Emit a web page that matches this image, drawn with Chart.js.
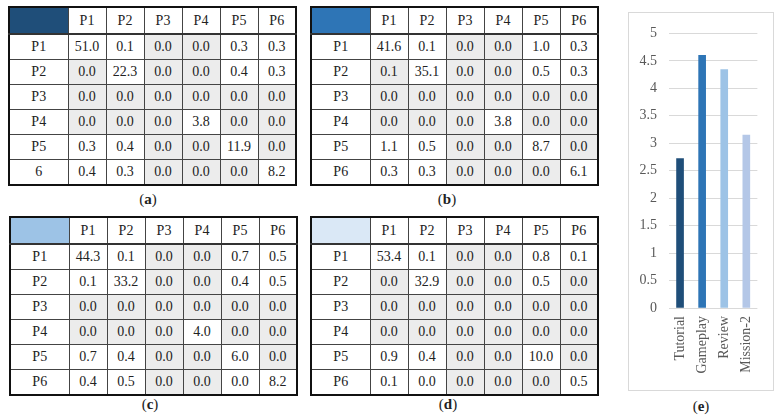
<!DOCTYPE html>
<html>
<head>
<meta charset="utf-8">
<script src="https://cdn.jsdelivr.net/npm/chart.js@4.4.1/dist/chart.umd.min.js"></script>
<style>
  body { margin: 0; background: #fff; font-family: 'Liberation Serif', serif; color: #222; }
  .wrap { position: relative; width: 781px; height: 420px; overflow: hidden; }
  table.cm {
    position: absolute; border-collapse: collapse; table-layout: fixed;
    width: 287px; border: 2px solid #111; font-size: 14px;
  }
  table.cm td { border: 1px solid #444; text-align: center; padding: 0; height: 24px; }
  table.cm tr:first-child td { height: 25px; border-bottom: 2px solid #333; }
  table.cm td.z { background: #ececec; }
  .cap { position: absolute; font-size: 15px; transform: translateX(-50%); }
  .cap b { font-weight: bold; }
  #panelE { position: absolute; left: 628px; top: 12px; width: 144px; height: 377px; border: 1px solid #d9d9d9; }
</style>
</head>
<body>
<div class="wrap" id="wrap">
  <div id="panelE"><canvas id="barChart"></canvas></div>
</div>
<script>
// confusion tables (rows = actual, cols = predicted)
const colLabels = ['P1', 'P2', 'P3', 'P4', 'P5', 'P6'];
const rowLabelsA = ['P1', 'P2', 'P3', 'P4', 'P5', '6'];
const rowLabels = ['P1', 'P2', 'P3', 'P4', 'P5', 'P6'];

const tableA = [
  [51.0, 0.1, 0.0, 0.0, 0.3, 0.3],
  [0.0, 22.3, 0.0, 0.0, 0.4, 0.3],
  [0.0, 0.0, 0.0, 0.0, 0.0, 0.0],
  [0.0, 0.0, 0.0, 3.8, 0.0, 0.0],
  [0.3, 0.4, 0.0, 0.0, 11.9, 0.0],
  [0.4, 0.3, 0.0, 0.0, 0.0, 8.2]
];
const tableB = [
  [41.6, 0.1, 0.0, 0.0, 1.0, 0.3],
  [0.1, 35.1, 0.0, 0.0, 0.5, 0.3],
  [0.0, 0.0, 0.0, 0.0, 0.0, 0.0],
  [0.0, 0.0, 0.0, 3.8, 0.0, 0.0],
  [1.1, 0.5, 0.0, 0.0, 8.7, 0.0],
  [0.3, 0.3, 0.0, 0.0, 0.0, 6.1]
];
const tableC = [
  [44.3, 0.1, 0.0, 0.0, 0.7, 0.5],
  [0.1, 33.2, 0.0, 0.0, 0.4, 0.5],
  [0.0, 0.0, 0.0, 0.0, 0.0, 0.0],
  [0.0, 0.0, 0.0, 4.0, 0.0, 0.0],
  [0.7, 0.4, 0.0, 0.0, 6.0, 0.0],
  [0.4, 0.5, 0.0, 0.0, 0.0, 8.2]
];
const tableD = [
  [53.4, 0.1, 0.0, 0.0, 0.8, 0.1],
  [0.0, 32.9, 0.0, 0.0, 0.5, 0.0],
  [0.0, 0.0, 0.0, 0.0, 0.0, 0.0],
  [0.0, 0.0, 0.0, 0.0, 0.0, 0.0],
  [0.9, 0.4, 0.0, 0.0, 10.0, 0.0],
  [0.1, 0.0, 0.0, 0.0, 0.0, 0.5]
];
// cells shaded grey in the original (mostly the exact zeros)
const shadeA = [
  [0,0,1,1,0,0],[1,0,1,1,0,0],[1,1,1,1,1,1],[1,1,1,0,1,1],[0,0,1,1,0,1],[0,0,1,1,1,0]
];
const shadeB = [
  [0,0,1,1,0,0],[1,0,1,1,0,0],[1,1,1,1,1,1],[1,1,1,0,1,1],[0,0,1,1,0,1],[0,0,1,1,1,0]
];
const shadeC = [
  [0,0,1,1,0,0],[0,0,1,1,0,0],[1,1,1,1,1,1],[1,1,1,0,1,1],[0,0,1,1,0,1],[0,0,1,1,0,0]
];
const shadeD = [
  [0,0,1,1,0,0],[1,0,1,1,0,1],[1,1,1,1,1,1],[1,1,1,1,1,1],[0,0,1,1,0,1],[0,0,1,1,1,0]
];

// bar chart (e)
const phases = ['Tutorial', 'Gameplay', 'Review', 'Mission-2'];
const scores = [2.72, 4.60, 4.34, 3.15];

const blues = ['#1f4e79', '#2e75b6', '#9dc3e6', '#b4c7e7'];
const cornerColors = ['#1f4e79', '#2e75b6', '#9dc3e6', '#dae8f6'];

function buildTable(values, shade, rows, corner, left, top) {
  const t = document.createElement('table');
  t.className = 'cm';
  t.style.left = left + 'px';
  t.style.top = top + 'px';
  const cg = document.createElement('colgroup');
  cg.innerHTML = '<col style="width:59px">' + colLabels.map(() => '<col style="width:38px">').join('');
  t.appendChild(cg);
  const head = t.insertRow();
  const c0 = head.insertCell();
  c0.style.background = corner;
  colLabels.forEach(l => { head.insertCell().textContent = l; });
  values.forEach((row, i) => {
    const tr = t.insertRow();
    tr.insertCell().textContent = rows[i];
    row.forEach((v, j) => {
      const td = tr.insertCell();
      td.textContent = v.toFixed(1);
      if (shade[i][j]) td.className = 'z';
    });
  });
  document.getElementById('wrap').appendChild(t);
}

function caption(letter, cx, top) {
  const d = document.createElement('div');
  d.className = 'cap';
  d.style.left = cx + 'px';
  d.style.top = top + 'px';
  d.innerHTML = '(<b>' + letter + '</b>)';
  document.getElementById('wrap').appendChild(d);
}

buildTable(tableA, shadeA, rowLabelsA, cornerColors[0], 8, 6);
buildTable(tableB, shadeB, rowLabels, cornerColors[1], 310, 6);
buildTable(tableC, shadeC, rowLabels, cornerColors[2], 9, 216);
buildTable(tableD, shadeD, rowLabels, cornerColors[3], 310, 216);
caption('a', 148, 191);
caption('b', 447, 191);
caption('c', 150, 396);
caption('d', 448, 396);
caption('e', 701, 398);

const tickFont = { family: 'Liberation Serif', size: 14 };

new Chart(document.getElementById('barChart'), {
  type: 'bar',
  data: {
    labels: phases,
    datasets: [{
      data: scores,
      backgroundColor: blues,
      barThickness: 7
    }]
  },
  options: {
    responsive: true,
    maintainAspectRatio: false,
    animation: false,
    layout: { padding: { top: 16, right: 15, left: 0, bottom: 0 } },
    plugins: { legend: { display: false }, tooltip: { enabled: false } },
    scales: {
      x: {
        grid: { display: false, drawTicks: false },
        border: { display: false },
        ticks: { font: tickFont, color: '#595959', minRotation: 90, maxRotation: 90, padding: 8 },
        afterFit: (s) => { s.height = 82; }
      },
      y: {
        min: 0,
        max: 5,
        grid: { color: '#d9d9d9', drawTicks: false },
        border: { display: false },
        ticks: { stepSize: 0.5, font: tickFont, color: '#595959', padding: 12, callback: (v) => String(v) },
        afterFit: (s) => { s.width = 40; }
      }
    }
  }
});
</script>
</body>
</html>
